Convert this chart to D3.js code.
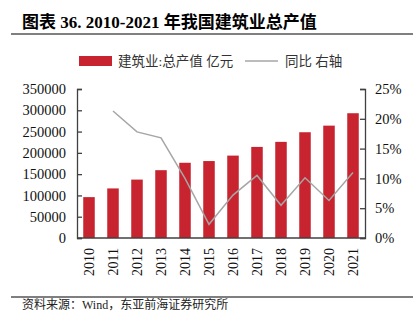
<!DOCTYPE html>
<html><head><meta charset="utf-8">
<script src="https://cdn.jsdelivr.net/npm/d3@7"></script>
<style>body{margin:0;background:#fff}svg{display:block}</style>
</head><body>
<svg id="c" width="419" height="325"></svg>
<script>
const years = ["2010","2011","2012","2013","2014","2015","2016","2017","2018","2019","2020","2021"];
const output = [96031,116463,137218,159313,176713,180757,193567,213944,225817,248443,263947,293079];
const yoy = [null,21.3,17.8,16.8,10.0,2.3,7.2,10.5,5.5,10.1,6.3,11.0];
const leftTicks = [0,50000,100000,150000,200000,250000,300000,350000];
const rightTicks = [0,5,10,15,20,25];

const svg = d3.select("#c");
const serif = "'Liberation Serif','Times New Roman',serif";
const mixed = "'Liberation Serif','Noto Sans CJK SC',serif";
const L = 77, R = 365, T = 89, B = 238;

// Title
const title = svg.append("text").attr("x",22).attr("y",28)
  .attr("font-family",mixed).attr("font-weight","bold").attr("font-size",17).attr("fill","#000")
  .text("图表 36. 2010-2021 年我国建筑业总产值");
const tl = title.node().getComputedTextLength();
if (tl > 297) title.attr("textLength",296).attr("lengthAdjust","spacingAndGlyphs");
svg.append("line").attr("x1",11).attr("x2",413).attr("y1",34).attr("y2",34).attr("stroke","#000").attr("stroke-width",1.2);

// Legend
svg.append("rect").attr("x",79).attr("y",56).attr("width",33).attr("height",10).attr("fill","#c8242f");
svg.append("text").attr("x",118).attr("y",66).attr("font-family",mixed).attr("font-size",13.5).attr("fill","#333").text("建筑业:总产值 亿元");
svg.append("line").attr("x1",245).attr("x2",278).attr("y1",61).attr("y2",61).attr("stroke","#a6a6a6").attr("stroke-width",1.5);
svg.append("text").attr("x",285).attr("y",66).attr("font-family",mixed).attr("font-size",13.5).attr("fill","#333").text("同比 右轴");

const x = d3.scaleBand().domain(years).range([L,R]).paddingInner(0.52).paddingOuter(0.26);
const yL = d3.scaleLinear().domain([0,350000]).range([B,T]);
const yR = d3.scaleLinear().domain([0,25]).range([B,T]);

// Bars
svg.append("g").selectAll("rect").data(years).join("rect")
  .attr("x",d=>x(d)).attr("width",x.bandwidth())
  .attr("y",(d,i)=>yL(output[i])).attr("height",(d,i)=>B-yL(output[i]))
  .attr("fill","#c8242f");

// Line
const line = d3.line().defined(d=>d[1]!=null).x(d=>x(d[0])+x.bandwidth()/2).y(d=>yR(d[1]));
svg.append("path").datum(years.map((y,i)=>[y,yoy[i]])).attr("d",line)
  .attr("fill","none").attr("stroke","#a6a6a6").attr("stroke-width",1.5);

// Axes
const gl = svg.append("g").attr("transform",`translate(${L},0)`)
  .call(d3.axisLeft(yL).tickValues(leftTicks).tickSize(-5).tickPadding(11).tickFormat(d3.format("d")));
const gr = svg.append("g").attr("transform",`translate(${R},0)`)
  .call(d3.axisRight(yR).tickValues(rightTicks).tickSize(-5).tickPadding(10).tickFormat(d=>d+"%"));
const gb = svg.append("g").attr("transform",`translate(0,${B})`)
  .call(d3.axisBottom(x).tickSize(0).tickPadding(10));
gb.selectAll("text").attr("transform","rotate(-90)").attr("text-anchor","end").attr("dx","-10").attr("dy","0.35em").attr("x",0).attr("y",0);
[gl,gr,gb].forEach(g=>{
  g.selectAll("text").attr("font-family",serif).attr("font-size",14.5).attr("fill","#111");
  g.selectAll("line,path").attr("stroke","#404040").attr("stroke-width",1.3);
});
gb.selectAll("text").attr("font-size",14);
gb.select(".domain").attr("d",`M${L},0H${R}`);

// Footer
svg.append("line").attr("x1",11).attr("x2",413).attr("y1",297).attr("y2",297).attr("stroke","#000").attr("stroke-width",1.2);
svg.append("text").attr("x",22).attr("y",309).attr("font-family",mixed).attr("font-size",12).attr("fill","#222")
  .text("资料来源：Wind，东亚前海证券研究所");
</script>
</body></html>
